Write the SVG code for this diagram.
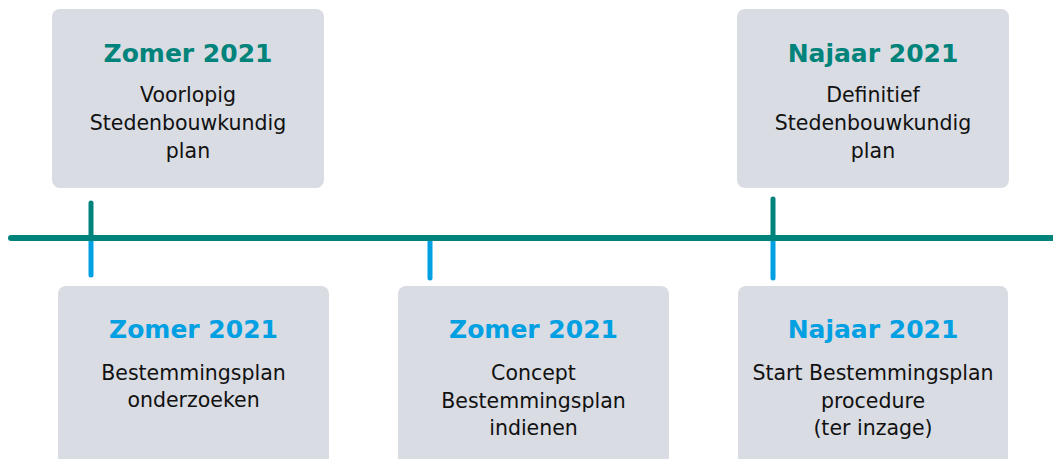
<svg xmlns="http://www.w3.org/2000/svg" width="1053" height="459" viewBox="0 0 1053 459">
<style>
.box{fill:#D9DCE2;}
.t{font-family:"DejaVu Sans",Verdana,sans-serif;font-weight:bold;font-size:25px;text-anchor:middle;}
.tt{fill:#00837A;}
.tb{fill:#00A0E3;}
.b{font-family:"DejaVu Sans",Verdana,sans-serif;font-size:20.5px;fill:#111;text-anchor:middle;}
.teal{stroke:#00837A;stroke-width:5;stroke-linecap:round;fill:none;}
.blue{stroke:#00A0E3;stroke-width:5;stroke-linecap:round;fill:none;}
</style>
<g id="connectors">
<line class="blue" x1="91" y1="238" x2="91" y2="275"/>
<line class="blue" x1="430" y1="238" x2="430" y2="278"/>
<line class="blue" x1="773" y1="238" x2="773" y2="278"/>
<line class="teal" x1="91" y1="203" x2="91" y2="238"/>
<line class="teal" x1="773" y1="199" x2="773" y2="238"/>
<line id="timeline" x1="11" y1="238" x2="1070" y2="238" stroke="#00837A" stroke-width="6" stroke-linecap="round"/>
</g>
<g id="node-top-1">
<rect class="box" x="52" y="9" width="272" height="179" rx="8"/>
<text class="t tt" x="188" y="62">Zomer 2021</text>
<text class="b" x="188" y="102">Voorlopig</text>
<text class="b" x="188" y="130">Stedenbouwkundig</text>
<text class="b" x="188" y="158">plan</text>
</g>
<g id="node-top-2">
<rect class="box" x="737" y="9" width="272" height="179" rx="8"/>
<text class="t tt" x="873" y="62">Najaar 2021</text>
<text class="b" x="873" y="102">Definitief</text>
<text class="b" x="873" y="130">Stedenbouwkundig</text>
<text class="b" x="873" y="158">plan</text>
</g>
<g id="node-bottom-1">
<rect class="box" x="58" y="286" width="271" height="200" rx="8"/>
<text class="t tb" x="193.5" y="338">Zomer 2021</text>
<text class="b" x="193.5" y="380">Bestemmingsplan</text>
<text class="b" x="193.5" y="407">onderzoeken</text>
</g>
<g id="node-bottom-2">
<rect class="box" x="398" y="286" width="271" height="200" rx="8"/>
<text class="t tb" x="533.5" y="338">Zomer 2021</text>
<text class="b" x="533.5" y="380">Concept</text>
<text class="b" x="533.5" y="408">Bestemmingsplan</text>
<text class="b" x="533.5" y="435">indienen</text>
</g>
<g id="node-bottom-3">
<rect class="box" x="738" y="286" width="270" height="200" rx="8"/>
<text class="t tb" x="873" y="338">Najaar 2021</text>
<text class="b" x="873" y="380">Start Bestemmingsplan</text>
<text class="b" x="873" y="408">procedure</text>
<text class="b" x="873" y="435">(ter inzage)</text>
</g>
</svg>
